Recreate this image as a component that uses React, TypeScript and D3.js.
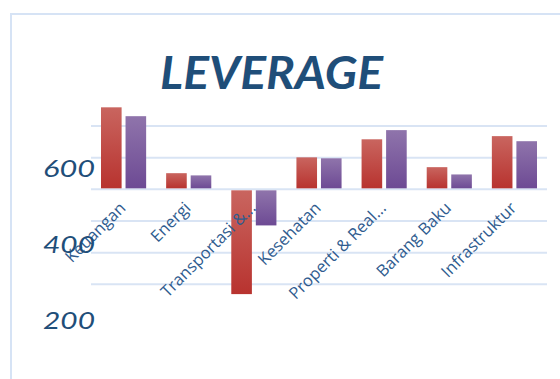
import React from "react";
import * as d3 from "d3";

const categories = ["Keuangan", "Energi", "Transportasi &...", "Kesehatan", "Properti & Real...", "Barang Baku", "Infrastruktur"];
const seriesA = [2.59, 0.51, -3.31, 1.01, 1.58, 0.70, 1.68];
const seriesB = [2.31, 0.44, -1.14, 0.98, 1.87, 0.47, 1.52];
const gridTicks = [-3, -2, -1, 0, 1, 2];
const yLabels = [600, 400, 200];

const W = 560;
const H = 379;

export default function App() {
  const x = d3.scaleBand<string>().domain(categories).range([91, 547]).paddingInner(0).paddingOuter(0);
  const inner = d3.scaleBand<string>().domain(["a", "b"]).range([10, x.bandwidth() - 10]).paddingInner(0.16);
  const y = d3.scaleLinear().domain([-3, 2]).range([284.3, 126]);
  const yLab = d3.scaleLinear().domain([600, 200]).range([177, 329]);
  const series = [
    { key: "a", values: seriesA, grad: "gRed" },
    { key: "b", values: seriesB, grad: "gPurple" },
  ];
  return (
    <svg width={W} height={H} style={{ position: "absolute", left: 0, top: 0 }}>
      <defs>
        <linearGradient id="gRed" x1="0" y1="0" x2="0" y2="1">
          <stop offset="0" stopColor="#c9655f" />
          <stop offset="1" stopColor="#b8332f" />
        </linearGradient>
        <linearGradient id="gPurple" x1="0" y1="0" x2="0" y2="1">
          <stop offset="0" stopColor="#8f74ab" />
          <stop offset="1" stopColor="#6d4a94" />
        </linearGradient>
      </defs>
      <rect x={0} y={0} width={W} height={H} fill="#ffffff" />
      <rect x={11} y={14} width={W + 20} height={H + 20} fill="none" stroke="#d6e3f5" strokeWidth={2} />
      {gridTicks.map((t) => (
        <line key={t} x1={91} x2={547} y1={y(t)} y2={y(t)} stroke="#d9e4f4" strokeWidth={2} />
      ))}
      {series.map((s) =>
        categories.map((c, i) => {
          const v = s.values[i];
          const x0 = (x(c) as number) + (inner(s.key) as number);
          const top = v >= 0 ? y(v) : y(0) + 1;
          const bot = v >= 0 ? y(0) - 1 : y(v);
          return <rect key={s.key + c} x={x0} y={top} width={inner.bandwidth()} height={bot - top} fill={`url(#${s.grad})`} />;
        })
      )}
      {categories.map((c) => {
        const cx = (x(c) as number) + x.bandwidth() / 2 + 3;
        const cy = 209;
        return (
          <text key={c} x={cx} y={cy} transform={`rotate(-45 ${cx} ${cy})`} textAnchor="end" fontFamily="Open Sans" fontSize={16.5} fill="#2f5c8f">
            {c}
          </text>
        );
      })}
      {yLabels.map((v) => (
        <text key={v} x={95} y={yLab(v)} textAnchor="end" fontFamily="Lato" fontStyle="italic" fontSize={24} fill="#1f4e79" textLength={52} lengthAdjust="spacingAndGlyphs">
          {v}
        </text>
      ))}
      <text x={271.5} y={89} textAnchor="middle" fontFamily="Lato" fontStyle="italic" fontWeight="bold" fontSize={45} fill="#1f4e79" textLength={223} lengthAdjust="spacingAndGlyphs">
        LEVERAGE
      </text>
    </svg>
  );
}
